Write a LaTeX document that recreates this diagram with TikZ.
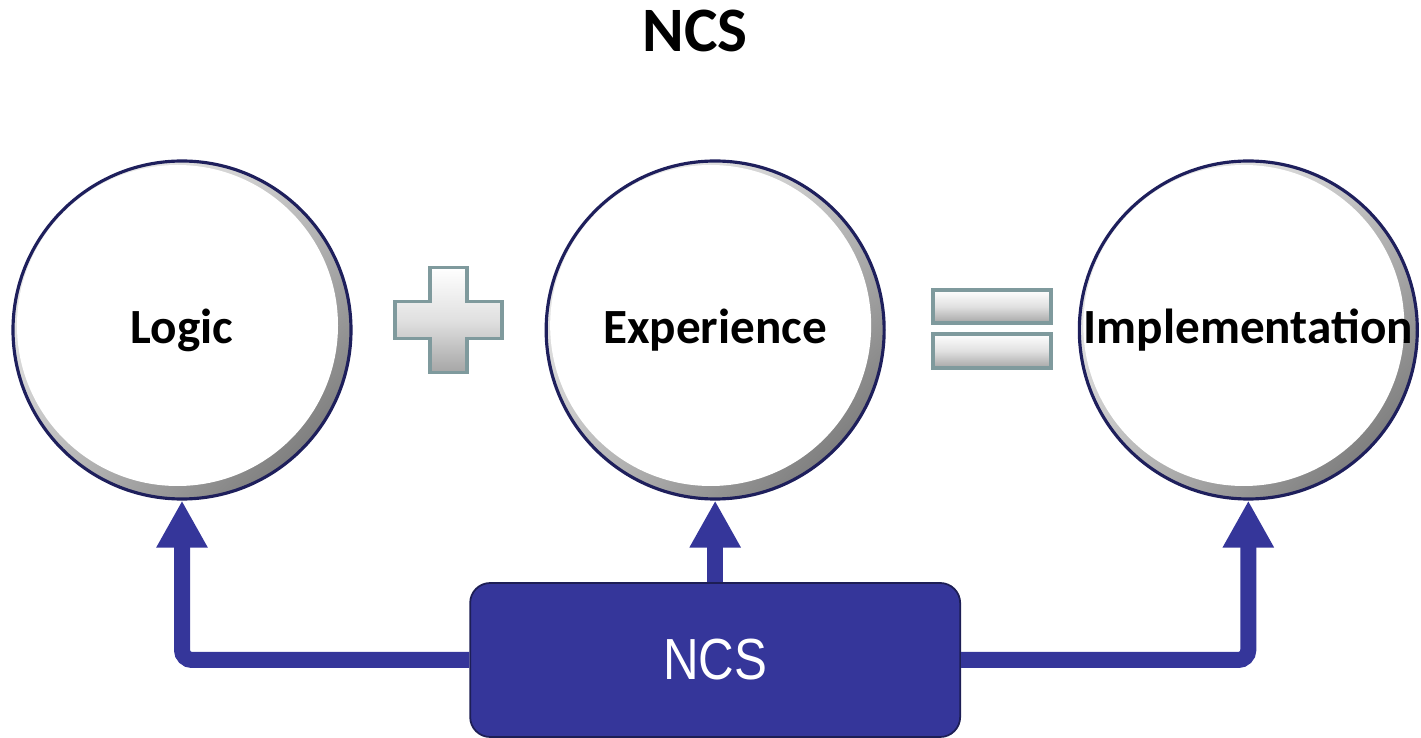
\documentclass[tikz,border=0pt]{standalone}
\usepackage{fontspec}
\usepackage{xcolor}
\usetikzlibrary{arrows.meta,positioning,calc,shadings}
\newfontfamily\labelfont{Carlito}
\newfontfamily\boxfont{Liberation Sans}
\definecolor{ncsBlue}{HTML}{35369A}
\definecolor{ringNavy}{HTML}{1E1F5C}
\definecolor{bevelTeal}{HTML}{7F9A9D}
\tikzset{
  ncs arrow/.style={-{Triangle[width=0.96cm,length=0.94cm]},draw=ncsBlue,
    line width=0.32cm,rounded corners=0.2cm},
  idea circle/.style={circle,minimum size=6.76cm,inner sep=0pt,fill=white,
    draw=ringNavy,line width=1.8pt,
    font=\labelfont\bfseries\fontsize{28}{34}\selectfont,
    path picture={
      \shade[upper left=white,upper right=black!25,lower left=black!25,
        lower right=black!60]
        (path picture bounding box.south west) rectangle
        (path picture bounding box.north east);
      \fill[white] ($(path picture bounding box.center)+(-0.09,0.09)$)
        circle (3.21cm);}},
  ncs box/.style={rounded corners=0.4cm,fill=ncsBlue,draw=ncsBlue!55!black,
    line width=1pt,minimum width=9.8cm,minimum height=3.08cm,text=white,
    font=\boxfont\fontsize{33}{40}\selectfont},
  bevel bar/.style={draw=bevelTeal,line width=2.2pt,top color=white,
    bottom color=black!35,middle color=black!12}
}
\begin{document}
\begin{tikzpicture}[node distance=3.84cm]
  \useasboundingbox (0,0) rectangle (28.42,-14.76);
  \node[font=\labelfont\bfseries\fontsize{36}{43}\selectfont]
    (title) at (13.9,-0.62) {NCS};
  \node[idea circle] (logic) at (3.64,-6.6) {Logic};
  \node[idea circle,right=of logic] (exper) {Experience};
  \node[idea circle,right=of exper] (impl) {Implementation};
  \node[ncs box] (ncs) at (exper |- 0,-13.2) {\raisebox{-0.1cm}{\scalebox{0.85}[1]{NCS}}};
  % plus and equals signs
  \coordinate (plus) at ($(logic)!0.5!(exper)+(0,0.2)$);
  \coordinate (equals) at ($(exper)!0.52!(impl)+(0,0.02)$);
  \begin{scope}[shift={(plus)}]
    \path[bevel bar] (-0.37,1.05) -- (0.37,1.05) -- (0.37,0.37) -- (1.07,0.37)
      -- (1.07,-0.37) -- (0.37,-0.37) -- (0.37,-1.05) -- (-0.37,-1.05)
      -- (-0.37,-0.37) -- (-1.07,-0.37) -- (-1.07,0.37) -- (-0.37,0.37) -- cycle;
  \end{scope}
  \begin{scope}[shift={(equals)}]
    \path[bevel bar] (-1.18,0.78) rectangle (1.18,0.12);
    \path[bevel bar] (-1.18,-0.1) rectangle (1.18,-0.78);
  \end{scope}
  % connectors
  \draw[ncs arrow] (ncs.west) -| (logic.south);
  \draw[ncs arrow] (ncs.north) -- (exper.south);
  \draw[ncs arrow] (ncs.east) -| (impl.south);
\end{tikzpicture}
\end{document}
